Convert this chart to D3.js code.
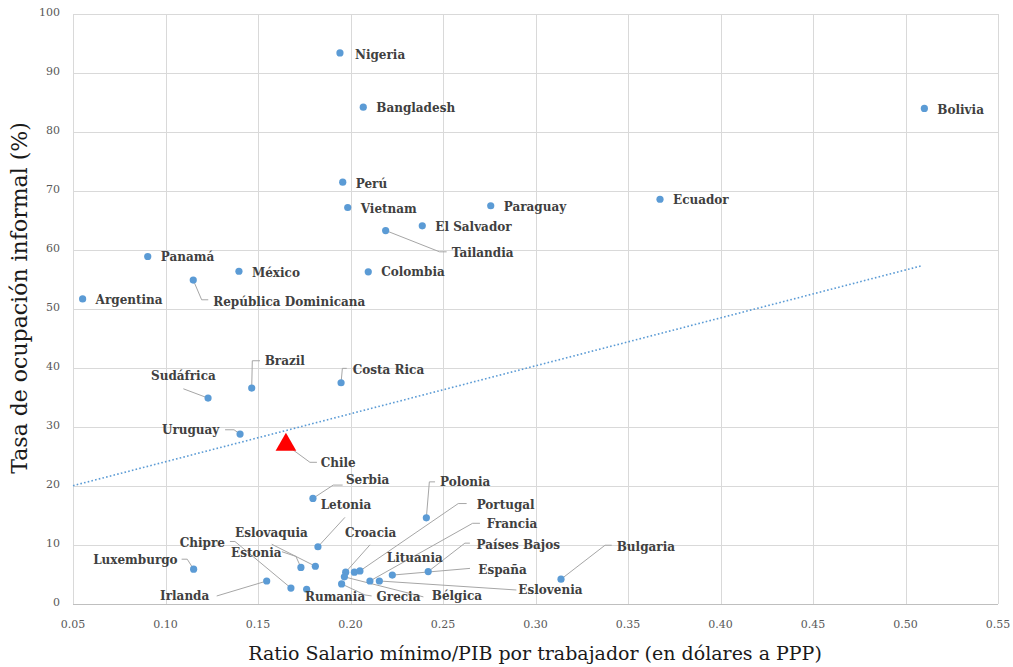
<!DOCTYPE html>
<html>
<head>
<meta charset="utf-8">
<title>Informalidad vs salario mínimo</title>
<style>
body { margin:0; background:#fff; }
.grid line { stroke:#d9d9d9; stroke-width:1; shape-rendering:crispEdges; }
.tick-label { font-family:"DejaVu Serif", serif; font-size:11px; fill:#595959; }
.pt-label { font-family:"DejaVu Serif", serif; font-size:12px; font-weight:bold; fill:#404040; }
.leader { fill:none; stroke:#a6a6a6; stroke-width:1; }
.axis-title { font-family:"DejaVu Serif", serif; fill:#1a1a1a; }
</style>
</head>
<body>
<svg width="1013" height="667"></svg>
<script src="https://d3js.org/d3.v7.min.js"></script>
<script>

// --- data ---
const countries = ["Nigeria","Bangladesh","Bolivia","Perú","Vietnam","Paraguay","Ecuador","El Salvador",
  "Tailandia","Colombia","Panamá","México","República Dominicana","Argentina","Brazil","Sudáfrica",
  "Costa Rica","Uruguay","Chile","Serbia","Letonia","Polonia","Luxemburgo","Bulgaria","Croacia",
  "Lituania","Portugal","Francia","Eslovenia","España","Países Bajos","Bélgica","Grecia","Rumania",
  "Chipre","Estonia","Eslovaquia","Irlanda"];
const ratio = [0.1943,0.2069,0.5102,0.1958,0.1985,0.2758,0.3673,0.2388,
  0.2190,0.2096,0.0904,0.1397,0.1150,0.0552,0.1466,0.1230,
  0.1949,0.1403,0.1651,0.1797,0.1824,0.2410,0.1152,0.3138,0.1974,
  0.2021,0.2051,0.2105,0.2156,0.2226,0.2420,0.1967,0.1952,0.1763,
  0.1678,0.1732,0.1810,0.1547];
const informal = [93.4,84.2,84.0,71.5,67.2,67.5,68.6,64.1,
  63.3,56.3,58.9,56.4,54.9,51.7,36.6,34.9,
  37.5,28.8,27.0,17.9,9.7,14.6,5.9,4.2,5.4,
  5.4,5.6,3.9,3.9,4.9,5.5,4.6,3.4,2.5,
  2.7,6.2,6.4,3.9];
const highlight = "Chile";
const trendX = [0.05, 0.5084];
const trendY = [20.05, 57.3];
const xTicks = [0.05,0.10,0.15,0.20,0.25,0.30,0.35,0.40,0.45,0.50,0.55];
const yTicks = [0,10,20,30,40,50,60,70,80,90,100];

// label placement (pixel offsets from the point): text offset, anchor, leader bends
const labelLayout = {
  "Nigeria": {dx:15, dy:3},
  "Bangladesh": {dx:13, dy:1},
  "Bolivia": {dx:13, dy:2},
  "Perú": {dx:13, dy:2},
  "Vietnam": {dx:13, dy:2},
  "Paraguay": {dx:13, dy:2},
  "Ecuador": {dx:13, dy:1},
  "El Salvador": {dx:13, dy:2},
  "Tailandia": {dx:66, dy:23, leader:[[54,21.3],[61,21.3]]},
  "Colombia": {dx:13, dy:1},
  "Panamá": {dx:13, dy:1},
  "México": {dx:13, dy:2},
  "República Dominicana": {dx:20, dy:22, leader:[[8.4,19.7],[15,19.7]]},
  "Argentina": {dx:13, dy:2},
  "Brazil": {dx:13, dy:-27, leader:[[0.6,-27.3],[8.3,-27.3]]},
  "Sudáfrica": {dx:7.7, dy:-21.6, anchor:"end", leader:[[-24.7,-9.3]]},
  "Costa Rica": {dx:11.7, dy:-12, leader:[[1.3,-14.4],[5.7,-14.4]]},
  "Uruguay": {dx:-20.7, dy:-3.3, anchor:"end", leader:[[-6,-4.3],[-15,-4.3]]},
  "Chile": {dx:34.7, dy:18.6, leader:[[24,17.6],[31,17.6]]},
  "Serbia": {dx:33, dy:-18, leader:[[20.3,-13.3],[29.7,-13.3]]},
  "Letonia": {dx:2.7, dy:-41, leader:[[27,-29.4]]},
  "Polonia": {dx:13.7, dy:-35, leader:[[3,-36],[8.7,-36]]},
  "Luxemburgo": {dx:-16, dy:-8.3, anchor:"end", leader:[[-6.4,-10],[-12,-10]]},
  "Bulgaria": {dx:55.7, dy:-31.7, leader:[[44,-34],[50.7,-34]]},
  "Croacia": {dx:-0.7, dy:-39, leader:[[24.3,-27.3]]},
  "Lituania": {dx:32.4, dy:-13.3},
  "Portugal": {dx:116.7, dy:-65, leader:[[98.3,-67.4],[106.7,-67.4]]},
  "Francia": {dx:116.7, dy:-56, leader:[[102.7,-57.7],[110,-57.7]]},
  "Eslovenia": {dx:139, dy:9.7, leader:[[137,9]]},
  "España": {dx:86, dy:-4.3, leader:[[77.7,-6.7]]},
  "Países Bajos": {dx:48.4, dy:-26, leader:[[36.7,-28.4],[41.7,-28.4]]},
  "Bélgica": {dx:87.4, dy:20, leader:[[79,20]]},
  "Grecia": {dx:35, dy:13.3, leader:[[23.3,11],[30,12]]},
  "Rumania": {dx:-1.7, dy:8},
  "Chipre": {dx:-66, dy:-45, anchor:"end", leader:[[-56,-46.6],[-61,-46.6]]},
  "Estonia": {dx:-19.3, dy:-14.4, anchor:"end", leader:[[-5,-11],[-19,-15.7]]},
  "Eslovaquia": {dx:-80.3, dy:-32.7, leader:[[-43.6,-22]]},
  "Irlanda": {dx:-57.4, dy:15.7, anchor:"end", leader:[[-50,15]]}
};

const margin = {top:14, right:15, bottom:63, left:73},
      width = 1013 - margin.left - margin.right,
      height = 667 - margin.top - margin.bottom;

const svg = d3.select("svg");
const g = svg.append("g")
    .attr("transform", "translate(" + margin.left + "," + margin.top + ")");

const x = d3.scaleLinear().domain([0.05, 0.55]).range([0, width]);
const y = d3.scaleLinear().domain([0, 100]).range([height, 0]);

// grid
g.append("g").attr("class", "grid")
  .selectAll("line.v").data(xTicks).join("line")
    .attr("x1", d => Math.round(x(d)) + 0.5).attr("x2", d => Math.round(x(d)) + 0.5)
    .attr("y1", 0).attr("y2", height);
g.append("g").attr("class", "grid")
  .selectAll("line.h").data(yTicks).join("line")
    .attr("x1", 0).attr("x2", width)
    .attr("y1", d => Math.round(y(d)) + 0.5).attr("y2", d => Math.round(y(d)) + 0.5);
g.append("line")
    .attr("x1", 0).attr("x2", width)
    .attr("y1", height + 0.5).attr("y2", height + 0.5)
    .attr("stroke", "#bfbfbf");

// tick labels
g.selectAll(".xt").data(xTicks).join("text")
    .attr("class", "tick-label")
    .attr("x", d => x(d)).attr("y", height + 21)
    .attr("text-anchor", "middle").attr("dominant-baseline", "middle")
    .text(d3.format(".2f"));
g.selectAll(".yt").data(yTicks).join("text")
    .attr("class", "tick-label")
    .attr("x", -13).attr("y", d => y(d) - 1)
    .attr("text-anchor", "end").attr("dominant-baseline", "middle")
    .text(d => d);

// axis titles
svg.append("text").attr("class", "axis-title")
    .attr("font-size", 19)
    .attr("x", 535).attr("y", 655)
    .attr("text-anchor", "middle").attr("dominant-baseline", "middle")
    .text("Ratio Salario mínimo/PIB por trabajador (en dólares a PPP)");
svg.append("text").attr("class", "axis-title")
    .attr("font-size", 22)
    .attr("transform", "translate(21,298) rotate(-90)")
    .attr("text-anchor", "middle").attr("dominant-baseline", "middle")
    .text("Tasa de ocupación informal (%)");

// trend line
const trend = trendX.map((d, i) => [d, trendY[i]]);
g.append("path")
    .datum(trend)
    .attr("fill", "none")
    .attr("stroke", "#5b9bd5")
    .attr("stroke-width", 1.6)
    .attr("stroke-dasharray", "1.6,2.2")
    .attr("d", d3.line().x(d => x(d[0])).y(d => y(d[1])));

const data = countries.map((c, i) => ({name:c, x:ratio[i], y:informal[i]}));

// leaders
g.selectAll(".leader").data(data.filter(d => labelLayout[d.name] && labelLayout[d.name].leader))
  .join("path")
    .attr("class", "leader")
    .attr("d", d => {
      const px = x(d.x), py = y(d.y);
      const pts = [[px, py]].concat(labelLayout[d.name].leader.map(p => [px + p[0], py + p[1]]));
      return d3.line()(pts);
    });

// points
g.selectAll(".dot").data(data.filter(d => d.name !== highlight)).join("circle")
    .attr("class", "dot")
    .attr("cx", d => x(d.x)).attr("cy", d => y(d.y))
    .attr("r", 3.6)
    .attr("fill", "#5b9bd5");

g.selectAll(".hl").data(data.filter(d => d.name === highlight)).join("path")
    .attr("class", "hl")
    .attr("transform", d => "translate(" + x(d.x) + "," + y(d.y) + ")")
    .attr("d", d3.symbol(d3.symbolTriangle, 185))
    .attr("fill", "#ff0000");

// labels
g.selectAll(".pt-label").data(data).join("text")
    .attr("class", "pt-label")
    .attr("x", d => x(d.x) + labelLayout[d.name].dx)
    .attr("y", d => y(d.y) + labelLayout[d.name].dy)
    .attr("text-anchor", d => labelLayout[d.name].anchor || "start")
    .attr("dominant-baseline", "middle")
    .text(d => d.name);

</script>
</body>
</html>
